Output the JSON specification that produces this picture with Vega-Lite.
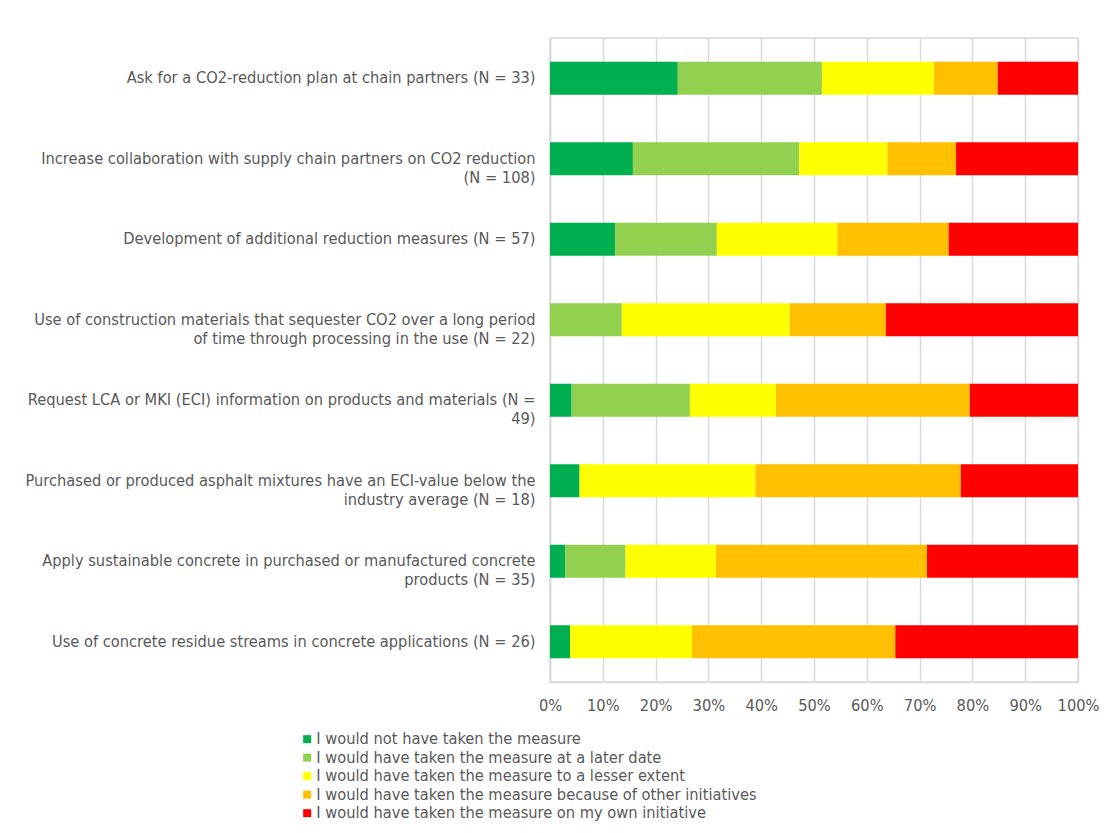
{
  "$schema": "https://vega.github.io/schema/vega-lite/v6.json",
  "width": 528,
  "height": 644,
  "padding": {"left": 24, "top": 38, "right": 30, "bottom": 5},
  "background": "white",
  "config": {
    "font": "'DejaVu Sans Condensed', 'Liberation Sans Narrow', sans-serif",
    "view": {"stroke": "#d9d9d9", "strokeWidth": 1.5},
    "axis": {"labelColor": "#595959", "labelFontSize": 16.3, "labelFont": "'DejaVu Sans Condensed', 'Liberation Sans Narrow', sans-serif", "titleColor": "#595959"}
  },
  "data": {
    "values": [
      {"item": "Ask for a CO2-reduction plan at chain partners (N = 33)", "cat": "I would not have taken the measure", "ord": 1, "pct": 24.2},
      {"item": "Ask for a CO2-reduction plan at chain partners (N = 33)", "cat": "I would have taken the measure at a later date", "ord": 2, "pct": 27.3},
      {"item": "Ask for a CO2-reduction plan at chain partners (N = 33)", "cat": "I would have taken the measure to a lesser extent", "ord": 3, "pct": 21.2},
      {"item": "Ask for a CO2-reduction plan at chain partners (N = 33)", "cat": "I would have taken the measure because of other initiatives", "ord": 4, "pct": 12.1},
      {"item": "Ask for a CO2-reduction plan at chain partners (N = 33)", "cat": "I would have taken the measure on my own initiative", "ord": 5, "pct": 15.2},

      {"item": "Increase collaboration with supply chain partners on CO2 reduction|(N = 108)", "cat": "I would not have taken the measure", "ord": 1, "pct": 15.7},
      {"item": "Increase collaboration with supply chain partners on CO2 reduction|(N = 108)", "cat": "I would have taken the measure at a later date", "ord": 2, "pct": 31.5},
      {"item": "Increase collaboration with supply chain partners on CO2 reduction|(N = 108)", "cat": "I would have taken the measure to a lesser extent", "ord": 3, "pct": 16.7},
      {"item": "Increase collaboration with supply chain partners on CO2 reduction|(N = 108)", "cat": "I would have taken the measure because of other initiatives", "ord": 4, "pct": 13.0},
      {"item": "Increase collaboration with supply chain partners on CO2 reduction|(N = 108)", "cat": "I would have taken the measure on my own initiative", "ord": 5, "pct": 23.1},

      {"item": "Development of additional reduction measures (N = 57)", "cat": "I would not have taken the measure", "ord": 1, "pct": 12.3},
      {"item": "Development of additional reduction measures (N = 57)", "cat": "I would have taken the measure at a later date", "ord": 2, "pct": 19.3},
      {"item": "Development of additional reduction measures (N = 57)", "cat": "I would have taken the measure to a lesser extent", "ord": 3, "pct": 22.8},
      {"item": "Development of additional reduction measures (N = 57)", "cat": "I would have taken the measure because of other initiatives", "ord": 4, "pct": 21.1},
      {"item": "Development of additional reduction measures (N = 57)", "cat": "I would have taken the measure on my own initiative", "ord": 5, "pct": 24.5},

      {"item": "Use of construction materials that sequester CO2 over a long period|of time through processing in the use (N = 22)", "cat": "I would have taken the measure at a later date", "ord": 2, "pct": 13.6},
      {"item": "Use of construction materials that sequester CO2 over a long period|of time through processing in the use (N = 22)", "cat": "I would have taken the measure to a lesser extent", "ord": 3, "pct": 31.8},
      {"item": "Use of construction materials that sequester CO2 over a long period|of time through processing in the use (N = 22)", "cat": "I would have taken the measure because of other initiatives", "ord": 4, "pct": 18.2},
      {"item": "Use of construction materials that sequester CO2 over a long period|of time through processing in the use (N = 22)", "cat": "I would have taken the measure on my own initiative", "ord": 5, "pct": 36.4},

      {"item": "Request LCA or MKI (ECI) information on products and materials (N =|49)", "cat": "I would not have taken the measure", "ord": 1, "pct": 4.1},
      {"item": "Request LCA or MKI (ECI) information on products and materials (N =|49)", "cat": "I would have taken the measure at a later date", "ord": 2, "pct": 22.4},
      {"item": "Request LCA or MKI (ECI) information on products and materials (N =|49)", "cat": "I would have taken the measure to a lesser extent", "ord": 3, "pct": 16.3},
      {"item": "Request LCA or MKI (ECI) information on products and materials (N =|49)", "cat": "I would have taken the measure because of other initiatives", "ord": 4, "pct": 36.7},
      {"item": "Request LCA or MKI (ECI) information on products and materials (N =|49)", "cat": "I would have taken the measure on my own initiative", "ord": 5, "pct": 20.5},

      {"item": "Purchased or produced asphalt mixtures have an ECI-value below the|industry average (N = 18)", "cat": "I would not have taken the measure", "ord": 1, "pct": 5.6},
      {"item": "Purchased or produced asphalt mixtures have an ECI-value below the|industry average (N = 18)", "cat": "I would have taken the measure to a lesser extent", "ord": 3, "pct": 33.3},
      {"item": "Purchased or produced asphalt mixtures have an ECI-value below the|industry average (N = 18)", "cat": "I would have taken the measure because of other initiatives", "ord": 4, "pct": 38.9},
      {"item": "Purchased or produced asphalt mixtures have an ECI-value below the|industry average (N = 18)", "cat": "I would have taken the measure on my own initiative", "ord": 5, "pct": 22.2},

      {"item": "Apply sustainable concrete in purchased or manufactured concrete|products (N = 35)", "cat": "I would not have taken the measure", "ord": 1, "pct": 2.9},
      {"item": "Apply sustainable concrete in purchased or manufactured concrete|products (N = 35)", "cat": "I would have taken the measure at a later date", "ord": 2, "pct": 11.4},
      {"item": "Apply sustainable concrete in purchased or manufactured concrete|products (N = 35)", "cat": "I would have taken the measure to a lesser extent", "ord": 3, "pct": 17.1},
      {"item": "Apply sustainable concrete in purchased or manufactured concrete|products (N = 35)", "cat": "I would have taken the measure because of other initiatives", "ord": 4, "pct": 40.0},
      {"item": "Apply sustainable concrete in purchased or manufactured concrete|products (N = 35)", "cat": "I would have taken the measure on my own initiative", "ord": 5, "pct": 28.6},

      {"item": "Use of concrete residue streams in concrete applications (N = 26)", "cat": "I would not have taken the measure", "ord": 1, "pct": 3.8},
      {"item": "Use of concrete residue streams in concrete applications (N = 26)", "cat": "I would have taken the measure to a lesser extent", "ord": 3, "pct": 23.1},
      {"item": "Use of concrete residue streams in concrete applications (N = 26)", "cat": "I would have taken the measure because of other initiatives", "ord": 4, "pct": 38.5},
      {"item": "Use of concrete residue streams in concrete applications (N = 26)", "cat": "I would have taken the measure on my own initiative", "ord": 5, "pct": 34.6}
    ]
  },
  "mark": {"type": "bar"},
  "encoding": {
    "y": {
      "field": "item",
      "type": "nominal",
      "sort": null,
      "scale": {"paddingInner": 0.59, "paddingOuter": 0.295},
      "axis": {
        "title": null,
        "ticks": false,
        "domain": true,
        "domainColor": "#d9d9d9",
        "domainWidth": 1.5,
        "labelPadding": 15,
        "labelLimit": 0,
        "labelLineHeight": 19,
        "labelExpr": "split(datum.value, '|')"
      }
    },
    "x": {
      "field": "pct",
      "type": "quantitative",
      "stack": "zero",
      "scale": {"domain": [0, 100], "nice": false},
      "axis": {
        "title": null,
        "values": [0, 10, 20, 30, 40, 50, 60, 70, 80, 90, 100],
        "labelExpr": "datum.value + '%'",
        "ticks": false,
        "domain": true,
        "domainColor": "#d9d9d9",
        "domainWidth": 1.5,
        "grid": true,
        "gridColor": "#d9d9d9",
        "gridWidth": 1.5,
        "labelPadding": 15,
        "labelFlush": false
      }
    },
    "order": {"field": "ord", "type": "quantitative"},
    "color": {
      "field": "cat",
      "type": "nominal",
      "scale": {
        "domain": [
          "I would not have taken the measure",
          "I would have taken the measure at a later date",
          "I would have taken the measure to a lesser extent",
          "I would have taken the measure because of other initiatives",
          "I would have taken the measure on my own initiative"
        ],
        "range": ["#00b050", "#92d050", "#ffff00", "#ffc000", "#ff0000"]
      },
      "legend": {
        "title": null,
        "orient": "none",
        "legendX": -251,
        "legendY": 693,
        "direction": "vertical",
        "symbolType": "square",
        "symbolSize": 64,
        "symbolStrokeWidth": 0,
        "labelFontSize": 16.3,
        "labelFont": "'DejaVu Sans Condensed', 'Liberation Sans Narrow', sans-serif",
        "labelColor": "#595959",
        "labelOffset": 1,
        "rowPadding": 1.5,
        "labelLimit": 0
      }
    }
  }
}
